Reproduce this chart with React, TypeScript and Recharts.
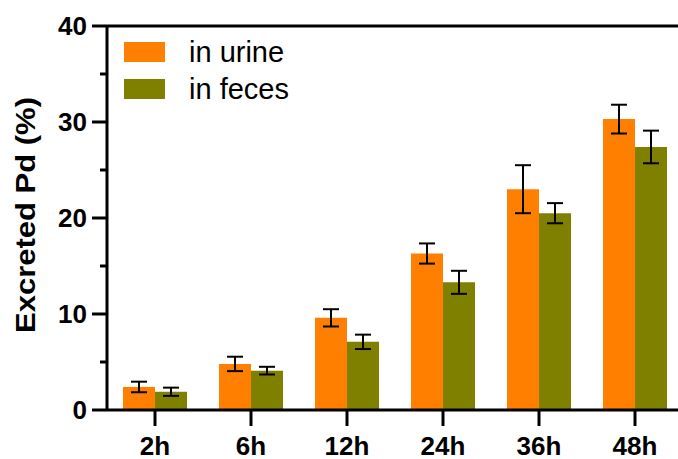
import { BarChart, Bar, XAxis, YAxis, ErrorBar, ReferenceLine } from "recharts";

const times = ["2h", "6h", "12h", "24h", "36h", "48h"];
const urine = [2.4, 4.8, 9.6, 16.3, 23.0, 30.3];
const urineErr = [0.55, 0.75, 0.9, 1.05, 2.5, 1.5];
const feces = [1.9, 4.1, 7.1, 13.3, 20.5, 27.4];
const fecesErr = [0.43, 0.4, 0.75, 1.2, 1.05, 1.7];
const yTicks = [0, 5, 10, 15, 20, 25, 30, 35, 40];
const seriesNames = ["in urine", "in feces"];

const data = times.map((t, i) => ({
  time: t,
  urine: urine[i],
  urineErr: urineErr[i],
  feces: feces[i],
  fecesErr: fecesErr[i],
}));

const FONT = "'Liberation Sans', Arial, sans-serif";
const ORANGE = "#FF8000";
const OLIVE = "#808000";
const colors = [ORANGE, OLIVE];

function YTick(props: any) {
  const { x, y, payload } = props;
  const axisX = x + 20;
  const major = payload.value % 10 === 0;
  return (
    <g>
      <line x1={axisX - (major ? 15 : 7)} x2={axisX} y1={y} y2={y} stroke="#000" strokeWidth={3} />
      {major && (
        <text x={x} y={y} dy="0.36em" textAnchor="end" fontSize={26} fontWeight="bold" fontFamily={FONT} fill="#000">
          {payload.value}
        </text>
      )}
    </g>
  );
}

export default function App() {
  return (
    <div style={{ position: "absolute", left: 0, top: 0, width: 678, height: 459, overflow: "hidden", background: "#fff" }}>
      <BarChart
        width={700}
        height={459}
        data={data}
        margin={{ top: 26, right: 17, left: 0, bottom: 0 }}
        barCategoryGap={16}
        barGap={0}
      >
        <XAxis
          dataKey="time"
          height={49}
          axisLine={{ stroke: "#000", strokeWidth: 3 }}
          tickLine={{ stroke: "#000", strokeWidth: 3 }}
          tickSize={16}
          tickMargin={11}
          tick={{ fontSize: 26, fontWeight: "bold", fill: "#000", fontFamily: FONT }}
        />
        <YAxis
          width={107}
          domain={[0, 40]}
          ticks={yTicks}
          interval={0}
          tickSize={15}
          tickMargin={5}
          tickLine={false}
          axisLine={{ stroke: "#000", strokeWidth: 3 }}
          tick={<YTick />}
          label={{
            content: (p: any) => {
              const vb = p.viewBox || { x: 0, y: 26, height: 384 };
              const cx = vb.x + 35;
              const cy = vb.y + vb.height / 2 - 3;
              return (
                <text
                  x={cx}
                  y={cy}
                  transform={`rotate(-90 ${cx} ${cy})`}
                  textAnchor="middle"
                  fontSize={27}
                  fontWeight="bold"
                  fontFamily={FONT}
                  fill="#000"
                  textLength={236}
                  lengthAdjust="spacingAndGlyphs"
                >
                  Excreted Pd (%)
                </text>
              );
            },
          }}
        />
        <ReferenceLine y={40} stroke="#000" strokeWidth={3} />
        <Bar dataKey="urine" name={seriesNames[0]} fill={ORANGE} isAnimationActive={false}>
          <ErrorBar dataKey="urineErr" width={8} stroke="#000" strokeWidth={2} />
        </Bar>
        <Bar dataKey="feces" name={seriesNames[1]} fill={OLIVE} isAnimationActive={false}>
          <ErrorBar dataKey="fecesErr" width={8} stroke="#000" strokeWidth={2} />
        </Bar>
      </BarChart>
      <div style={{ position: "absolute", left: 124, top: 34, fontFamily: FONT }}>
        {seriesNames.map((n, i) => (
          <div key={n} style={{ display: "flex", alignItems: "center", height: 36.5 }}>
            <div style={{ width: 41, height: 20, background: colors[i], marginRight: 24 }} />
            <span style={{ fontSize: 29, color: "#000", lineHeight: "20px" }}>{n}</span>
          </div>
        ))}
      </div>
    </div>
  );
}
